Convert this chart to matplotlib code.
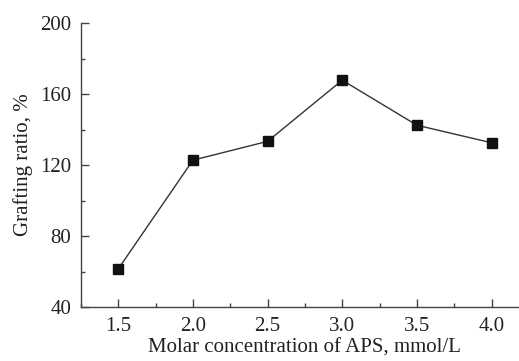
import matplotlib
matplotlib.use("Agg")
import matplotlib.pyplot as plt
from matplotlib.ticker import MultipleLocator

# Grafting ratio vs APS concentration
aps_conc = [1.5, 2.0, 2.5, 3.0, 3.5, 4.0]
grafting_ratio = [61.5, 122.8, 133.4, 167.9, 142.5, 132.6]

plt.rcParams["font.family"] = ["Liberation Serif", "DejaVu Serif"]

fig = plt.figure(figsize=(5.19, 3.61), dpi=100)
ax = fig.add_axes([0.156, 0.1496, 0.863, 0.786])

ax.plot(aps_conc, grafting_ratio, color="#333333", linewidth=1.0,
        marker="s", markersize=7, markerfacecolor="#111111",
        markeredgecolor="#111111", zorder=3)

ax.set_xlim(1.25, 4.25)
ax.set_ylim(40, 200)
ax.xaxis.set_major_locator(MultipleLocator(0.5))
ax.xaxis.set_minor_locator(MultipleLocator(0.25))
ax.yaxis.set_major_locator(MultipleLocator(40))
ax.yaxis.set_minor_locator(MultipleLocator(20))
ax.xaxis.set_major_formatter(plt.FormatStrFormatter("%.1f"))

for side in ("top", "right"):
    ax.spines[side].set_visible(False)
for side in ("left", "bottom"):
    ax.spines[side].set_color("#444444")
    ax.spines[side].set_linewidth(1.0)

ax.tick_params(which="major", direction="in", length=6, width=1.0,
               color="#444444", labelsize=15, pad=7, labelcolor="#222222")
ax.tick_params(which="minor", direction="in", length=3, width=1.0,
               color="#444444")

ax.set_xlabel("Molar concentration of APS, mmol/L", fontsize=15,
              color="#222222", labelpad=2)
ax.set_ylabel("Grafting ratio, %", fontsize=15, color="#222222",
              labelpad=5)

fig.savefig("out.png", dpi=100)
